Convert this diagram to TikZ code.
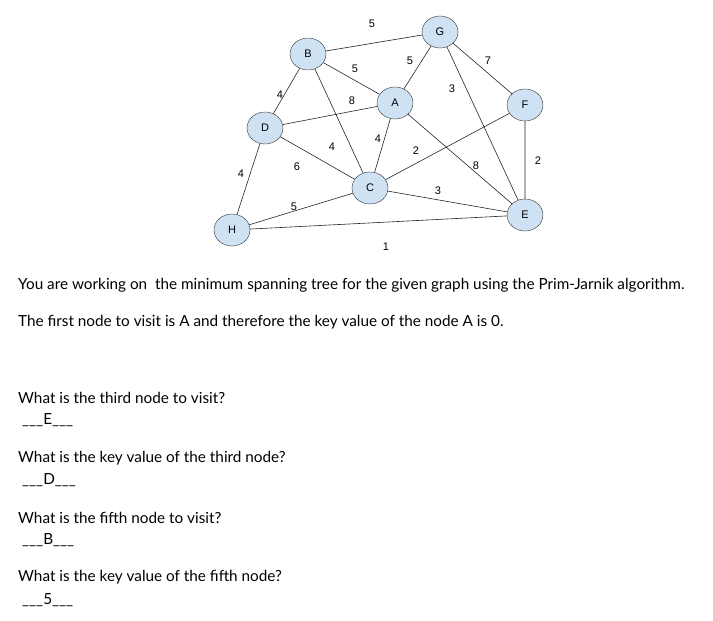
\documentclass[tikz,border=0pt]{standalone}
\usetikzlibrary{shapes.geometric}
\usepackage{fontspec}
\setmainfont{Lato}
\newfontfamily\arialf{Liberation Sans}
\definecolor{nodefill}{HTML}{CFE2F3}
\begin{document}
\begin{tikzpicture}[x=1pt,y=-1pt,
  vtx/.style={ellipse,draw=black!80,fill=nodefill,minimum width=36pt,minimum height=32pt,inner sep=0pt,font=\arialf\fontsize{11}{13}\selectfont},
  edge/.style={draw=black!85,line width=0.6pt},
  wt/.style={font=\arialf\fontsize{11}{13}\selectfont,inner sep=0pt},
  txt/.style={anchor=west,font=\fontsize{15.3}{18}\selectfont,inner sep=0pt}]
\useasboundingbox (0,0) rectangle (713,621);
\node[vtx] (G) at (440,32) {G};
\node[vtx] (B) at (308,54) {B};
\node[vtx] (A) at (395,103) {A};
\node[vtx] (F) at (525,105) {F};
\node[vtx] (D) at (265,128) {D};
\node[vtx] (C) at (370,188) {C};
\node[vtx] (E) at (525,215) {E};
\node[vtx] (H) at (232,230) {H};
\draw[edge] (B)--(G) (B)--(A) (A)--(G) (G)--(F) (G)--(E) (B)--(D) (D)--(A) (B)--(C) (A)--(C) (C)--(F) (A)--(E) (F)--(E) (D)--(C) (D)--(H) (H)--(C) (C)--(E) (H)--(E);
\node[wt] (w1) at (372,24) {5};
\node[wt] (w2) at (355,69) {5};
\node[wt] (w3) at (410,61) {5};
\node[wt] (w4) at (488,61) {7};
\node[wt] (w5) at (452,89) {3};
\node[wt] (w6) at (280,95) {4};
\node[wt] (w7) at (352,101) {8};
\node[wt] (w8) at (332,147) {4};
\node[wt] (w9) at (378,139) {4};
\node[wt] (w10) at (416,151) {2};
\node[wt] (w11) at (476,166) {8};
\node[wt] (w12) at (538,161) {2};
\node[wt] (w13) at (297,167) {6};
\node[wt] (w14) at (241,174) {4};
\node[wt] (w15) at (294,207) {5};
\node[wt] (w16) at (438,191) {3};
\node[wt] (w17) at (386,247) {1};
\node[txt] (t1) at (18,285) {You are working on\ \ the minimum spanning tree for the given graph using the Prim-Jarnik algorithm.};
\node[txt] (t2) at (18,322) {The first node to visit is A and therefore the key value of the node A is 0.};
\node[txt] (q1) at (18,398) {What is the third node to visit?};
\node[txt] (a1) at (22,420) {\_\_\_E\_\_\_};
\node[txt] (q2) at (18,458) {What is the key value of the third node?};
\node[txt] (a2) at (22,480) {\_\_\_D\_\_\_};
\node[txt] (q3) at (18,518) {What is the fifth node to visit?};
\node[txt] (a3) at (22,540) {\_\_\_B\_\_\_};
\node[txt] (q4) at (18,577) {What is the key value of the fifth node?};
\node[txt] (a4) at (22,600) {\_\_\_5\_\_\_};
\end{tikzpicture}
\end{document}
